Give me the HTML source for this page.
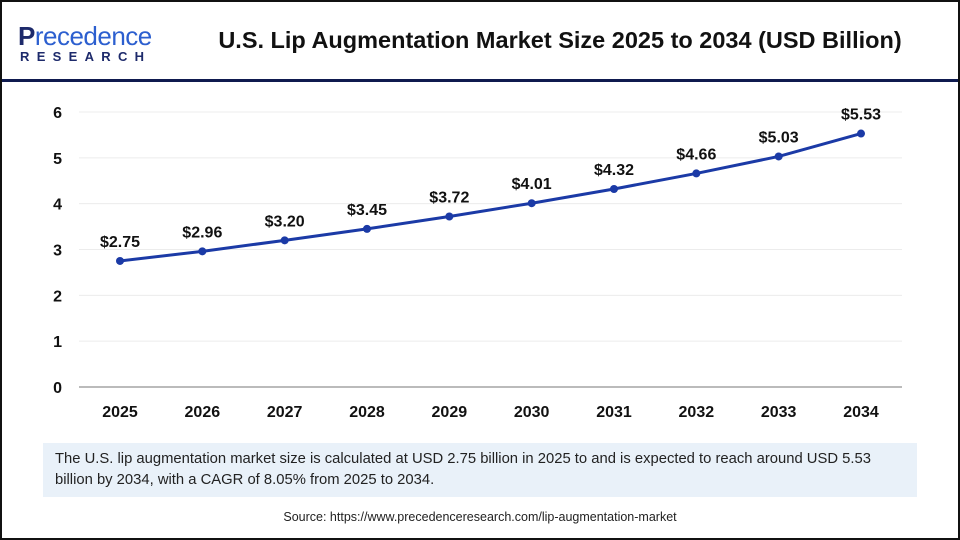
<!DOCTYPE html>
<html><head><meta charset="utf-8"><style>
body{margin:0;width:960px;height:540px;overflow:hidden;background:#fff;font-family:"Liberation Sans",sans-serif}
#frame{position:absolute;left:0;top:0;width:956px;height:536px;border:2px solid #111}
</style></head><body>
<div id="frame"></div>
<div style="position:absolute;left:18px;top:22px;">
<div style="font-size:26px;font-weight:bold;color:#1d2a6b;letter-spacing:-0.5px;line-height:28px">P<span style="color:#2c5fcf;font-weight:normal">recedence</span></div>
<div style="font-size:13px;font-weight:bold;color:#1d2a6b;letter-spacing:7.3px;line-height:14px;margin-left:2px">RESEARCH</div>
</div>
<div style="position:absolute;left:190px;top:27px;width:740px;text-align:center;font-size:23.5px;font-weight:bold;color:#111;white-space:nowrap">U.S. Lip Augmentation Market Size 2025 to 2034 (USD Billion)</div>
<div style="position:absolute;left:2px;top:79px;width:956px;height:3px;background:#0f1a4f"></div>
<svg id="chart" width="960" height="540" style="position:absolute;left:0;top:0"></svg>
<div style="position:absolute;left:43px;top:443px;height:54px;background:#e9f1f9;padding:6px 8px 0 12px;box-sizing:border-box;width:874px;font-size:14.8px;line-height:21px;color:#222">The U.S. lip augmentation market size is calculated at USD 2.75 billion in 2025 to and is expected to reach around USD 5.53 billion by 2034, with a CAGR of 8.05% from 2025 to 2034.</div>
<div style="position:absolute;left:0;top:510px;width:960px;text-align:center;font-size:12.5px;color:#222">Source: https://www.precedenceresearch.com/lip-augmentation-market</div>
<script>
const categories=["2025","2026","2027","2028","2029","2030","2031","2032","2033","2034"];
const values=[2.75,2.96,3.20,3.45,3.72,4.01,4.32,4.66,5.03,5.53];
const valueLabels=["$2.75","$2.96","$3.20","$3.45","$3.72","$4.01","$4.32","$4.66","$5.03","$5.53"];
const yTicks=[0,1,2,3,4,5,6];
const svg=document.getElementById('chart');const NS='http://www.w3.org/2000/svg';
const x=i=>120+i*(861-120)/(categories.length-1);
const y=v=>387-v*(387-112)/6;
function mk(t,a){const e=document.createElementNS(NS,t);for(const k in a)e.setAttribute(k,a[k]);svg.appendChild(e);return e;}
yTicks.forEach(t=>{
 const g=mk('line',{x1:79,x2:902,y1:y(t),y2:y(t),stroke:t==0?'#bbb':'#ececec','stroke-width':t==0?2:1});
 
 
 const l=mk('text',{x:62,y:y(t)+6,'text-anchor':'end','font-size':16,'font-weight':'bold',fill:'#111'});l.textContent=t;
 
 
});
categories.forEach((c,i)=>{const l=mk('text',{x:x(i),y:417,'text-anchor':'middle','font-size':16,'font-weight':'bold',fill:'#111'});l.textContent=c;
 
 });
const p=mk('polyline',{points:values.map((v,i)=>x(i)+','+y(v)).join(' '),fill:'none',stroke:'#1b3aa6','stroke-width':3});


values.forEach((v,i)=>{
 const c=mk('circle',{cx:x(i),cy:y(v),r:4,fill:'#1b3aa6'});
 
 
 const t=mk('text',{x:x(i),y:y(v)-14,'text-anchor':'middle','font-size':16,'font-weight':'bold',fill:'#111'});t.textContent=valueLabels[i];
 
 
});
</script>
</body></html>
